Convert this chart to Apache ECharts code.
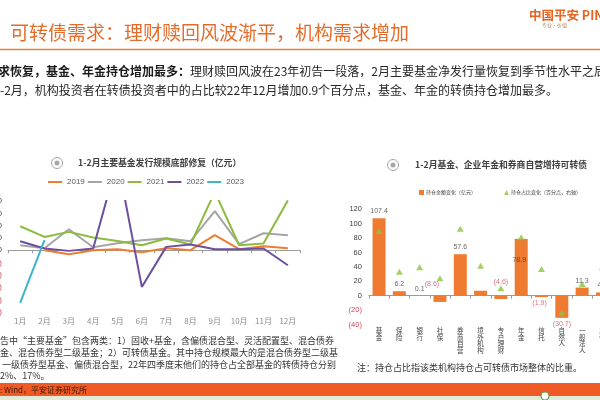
<!DOCTYPE html>
<html><head><meta charset="utf-8">
<script src="https://cdn.jsdelivr.net/npm/echarts@6/dist/echarts.min.js"></script>
<style>html,body{margin:0;padding:0;background:#fff}#c{width:600px;height:400px}</style>
</head><body><div id="c"></div>
<script>
// ---------- data: left chart (主要基金发行规模, 亿元) ----------
const months = ['1月','2月','3月','4月','5月','6月','7月','8月','9月','10月','11月','12月'];
const s2019 = [null, 0, -65, 0, 16, -33, 33, 0, 244, 16, 65, 33];
const s2020 = [81, 33, 341, 49, 114, 163, 195, 146, 634, 98, 276, 244];
const s2021 = [390, 216, 298, 207, 151, 81, 190, 93, 950, 81, 109, 810];
const s2022 = [146, 28, -11, 28, 1460, -597, 54, 93, 16, 16, 28, -244];
const s2023 = [-857, 163, null, null, null, null, null, null, null, null, null, null];
const yearNames = ['2019','2020','2021','2022','2023'];

// ---------- data: right chart ----------
const holders = ['基金','保险','银行','社保','券商自营','境外机构','专户理财','年金','信托','自然人','一般法人','其他'];
const amountChange = [107.4, 6.2, 0.1, -8.6, 57.6, 6.9, -4.6, 78.9, -1.9, -30.7, 11.3, 4.5];   // 亿元
const shareChange  = [0.45, 0.167, 0.197, 0.121, 0.465, 0.208, 0.051, 0.406, 0.185, -0.118, 0.081, 0.2]; // 百分点

const CJK = '"Noto Sans CJK SC", sans-serif';
const NUM = '"Liberation Sans", "Noto Sans CJK SC", sans-serif';
const RED = '#D9485A';
const yearColors = ['#ED7D31', '#A5A5A5', '#8CBB3E', '#6E4F9E', '#3FB3C8'];

const chart = echarts.init(document.getElementById('c'));

function paren(v){ return v < 0 ? '(' + Math.abs(v) + ')' : String(v); }

// label placement for bar values (styling only)
const labelCfg = amountChange.map((v, i) => {
  const name = holders[i];
  const base = { show: true, fontSize: 7, fontFamily: NUM, color: v < 0 ? RED : '#404040',
    formatter: v < 0 ? '(' + Math.abs(v).toFixed(1) + ')' : v.toFixed(1) };
  if (name === '境外机构') return { value: v, label: { show: false } };
  if (name === '年金') return { value: v, label: Object.assign(base, { position: 'bottom', distance: 17, offset: [-2, 0] }) };
  if (name === '社保') return { value: 0, label: Object.assign(base, { position: 'top', distance: 4, offset: [-8, -4] }) };
  if (name === '专户理财') return { value: 0, label: Object.assign(base, { position: 'top', distance: 4, offset: [0, -6] }) };
  if (name === '信托') return { value: v, label: Object.assign(base, { position: 'bottom', distance: 2, offset: [-2, 0] }) };
  if (v < 0) return { value: v, label: Object.assign(base, { position: 'bottom', distance: 2 }) };
  return { value: v, label: Object.assign(base, { position: 'top', distance: 3 }) };
});

const lineSeries = [s2019, s2020, s2021, s2022, s2023].map((d, i) => ({
  type: 'line', name: yearNames[i], data: d, xAxisIndex: 0, yAxisIndex: 0,
  symbol: 'none', smooth: false, connectNulls: false,
  lineStyle: { width: 2, color: yearColors[i] }, itemStyle: { color: yearColors[i] },
  emphasis: { disabled: true }
}));

const option = {
  animation: false,
  backgroundColor: '#fff',
  grid: [
    { left: 8, right: 300, top: 201, bottom: 88.3, outerBoundsMode: 'none', containLabel: false },
    { left: 368.9, right: -12.6, top: 209.3, bottom: 75.5, outerBoundsMode: 'none', containLabel: false }
  ],
  legend: [
    { data: yearNames.map(n => ({ name: n, icon: 'rect' })), left: 48, top: 178, padding: 0, itemWidth: 14, itemHeight: 2, itemGap: 3,
      textStyle: { fontSize: 8, color: '#595959', fontFamily: NUM }, selectedMode: false },
    { data: [{ name: '持仓金额变化（亿元）', icon: 'rect' }, { name: '持仓占比变化（百分点，右轴）', icon: 'triangle' }],
      left: 419, top: 190, padding: 0, itemWidth: 5, itemHeight: 5, itemGap: 28,
      textStyle: { fontSize: 5, color: '#404040', fontFamily: CJK, padding: [0,0,0,-3] }, selectedMode: false }
  ],
  xAxis: [
    { type: 'category', gridIndex: 0, data: months, boundaryGap: true,
      axisLine: { onZero: true, lineStyle: { color: '#9A9A9A', width: 1 } },
      axisTick: { show: true, length: 3, lineStyle: { color: '#9A9A9A' } },
      axisLabel: { interval: 0, fontSize: 8, color: '#8C8C8C', margin: 5, fontFamily: CJK },
      splitLine: { show: false } },
    { type: 'category', gridIndex: 1, data: holders, boundaryGap: true,
      axisLine: { onZero: true, lineStyle: { color: '#9A9A9A', width: 1 } },
      axisTick: { show: true, length: 3, lineStyle: { color: '#9A9A9A' } },
      axisLabel: { interval: 0, fontSize: 6.5, lineHeight: 6.6, color: '#404040', margin: 3, fontFamily: CJK,
        formatter: s => s.split('').join('\n') },
      splitLine: { show: false } }
  ],
  yAxis: [
    { type: 'value', gridIndex: 0, min: -1000, max: 800, interval: 200,
      axisLine: { show: false }, axisTick: { show: false }, splitLine: { show: false },
      axisLabel: { fontSize: 8, margin: 6, fontFamily: NUM, formatter: v => paren(v),
        color: v => (parseFloat(v) < 0 ? RED : '#404040') } },
    { type: 'value', gridIndex: 1, min: -40, max: 120, interval: 20,
      axisLine: { show: false }, axisTick: { show: false }, splitLine: { show: false },
      axisLabel: { fontSize: 7.5, margin: 7, fontFamily: NUM, formatter: v => paren(v),
        color: v => (parseFloat(v) < 0 ? RED : '#404040') } },
    { type: 'value', gridIndex: 1, position: 'right', min: -0.2, max: 0.6, interval: 0.1, show: false,
      splitLine: { show: false } }
  ],
  series: lineSeries.concat([
    { type: 'bar', name: '持仓金额变化（亿元）', xAxisIndex: 1, yAxisIndex: 1, data: amountChange,
      barWidth: 13, itemStyle: { color: '#EE7B2F' }, emphasis: { disabled: true } },
    { type: 'scatter', name: '持仓占比变化（百分点，右轴）', xAxisIndex: 1, yAxisIndex: 2, data: shareChange,
      symbol: 'triangle', symbolSize: [7, 6], itemStyle: { color: '#8CC540' }, z: 4, emphasis: { disabled: true } },
    { type: 'scatter', name: 'labels', xAxisIndex: 1, yAxisIndex: 1, data: labelCfg, symbol: 'circle', symbolSize: 1,
      itemStyle: { color: 'rgba(0,0,0,0)' }, z: 6, silent: true, clip: false, emphasis: { disabled: true } }
  ]),
  graphic: [
    // header
    { type: 'text', x: 10, y: 33, style: { text: '可转债需求：理财赎回风波渐平，机构需求增加', fontSize: 19, fontFamily: CJK, fill: '#E46C2A', verticalAlign: 'middle' } },
    { type: 'text', x: 529, y: 15, style: { text: '中国平安 PINGAN', fontSize: 12.5, fontWeight: 'bold', fontFamily: CJK, fill: '#E8641E', verticalAlign: 'middle' } },
    { type: 'text', x: 542, y: 25.5, style: { text: '专业·价值', fontSize: 5, fontFamily: CJK, fill: '#B0805A', verticalAlign: 'middle' } },
    { type: 'line', shape: { x1: 0, y1: 49.5, x2: 600, y2: 49.5 }, style: { stroke: '#E8823A', lineWidth: 1.5 } },
    { type: 'text', x: -2, y: 71, style: { text: '{b|求恢复，基金、年金持仓增加最多：}{n|理财赎回风波在23年初告一段落，2月主要基金净发行量恢复到季节性水平之后}',
        verticalAlign: 'middle', rich: { b: { fontSize: 12, fontWeight: 'bold', fontFamily: CJK, fill: '#1a1a1a' }, n: { fontSize: 12, fontFamily: CJK, fill: '#262626' } } } },
    { type: 'text', x: 0, y: 90, style: { text: '-2月，机构投资者在转债投资者中的占比较22年12月增加0.9个百分点，基金、年金的转债持仓增加最多。',
        fontSize: 12, fontFamily: CJK, fill: '#262626', verticalAlign: 'middle' } },
    // left chart title
    { type: 'circle', shape: { cx: 57, cy: 163, r: 5.5 }, style: { fill: '#fff', stroke: '#A6A6A6', lineWidth: 1 } },
    { type: 'circle', shape: { cx: 57, cy: 163, r: 2.5 }, style: { fill: '#A6A6A6' } },
    { type: 'text', x: 78, y: 163, style: { text: '1-2月主要基金发行规模底部修复（亿元）', fontSize: 8.8, fontWeight: 'bold', fontFamily: CJK, fill: '#404040', verticalAlign: 'middle' } },
    // right chart title
    { type: 'circle', shape: { cx: 393, cy: 165, r: 5.5 }, style: { fill: '#fff', stroke: '#A6A6A6', lineWidth: 1 } },
    { type: 'circle', shape: { cx: 393, cy: 165, r: 2.5 }, style: { fill: '#A6A6A6' } },
    { type: 'text', x: 415, y: 165, style: { text: '1-2月基金、企业年金和券商自营增持可转债', fontSize: 8.8, fontWeight: 'bold', fontFamily: CJK, fill: '#404040', verticalAlign: 'middle' } },
    // notes
    { type: 'text', x: 0, y: 341, style: { text: '告中“主要基金”包含两类：1）固收+基金，含偏债混合型、灵活配置型、混合债券', fontSize: 9, fontFamily: CJK, fill: '#333', verticalAlign: 'middle' } },
    { type: 'text', x: 0, y: 353, style: { text: '金、混合债券型二级基金；2）可转债基金。其中持仓规模最大的是混合债券型二级基', fontSize: 9, fontFamily: CJK, fill: '#333', verticalAlign: 'middle' } },
    { type: 'text', x: 2, y: 365, style: { text: '一级债券型基金、偏债混合型，22年四季度末他们的持仓占全部基金的转债持仓分别', fontSize: 9, fontFamily: CJK, fill: '#333', verticalAlign: 'middle' } },
    { type: 'text', x: 0, y: 376, style: { text: '2%、17%。', fontSize: 9, fontFamily: CJK, fill: '#333', verticalAlign: 'middle' } },
    { type: 'text', x: 357, y: 368, style: { text: '注：持仓占比指该类机构持仓占可转债市场整体的比重。', fontSize: 9, fontFamily: CJK, fill: '#333', verticalAlign: 'middle' } },
    // source band
    { type: 'rect', shape: { x: 0, y: 383, width: 600, height: 13 }, style: { fill: '#F15A24' } },
    { type: 'text', x: 0, y: 389.5, style: { text: ': Wind，平安证券研究所', fontSize: 8, fontFamily: CJK, fill: '#3A1A0A', verticalAlign: 'middle' } },
    { type: 'rect', shape: { x: 0, y: 396, width: 600, height: 4 }, style: { fill: '#E4EAD8' } },
    { type: 'circle', shape: { cx: 545, cy: 396, r: 4 }, style: { fill: '#fff', stroke: '#5E9E4A', lineWidth: 1.2 } }
  ]
};
chart.setOption(option);
</script></body></html>
